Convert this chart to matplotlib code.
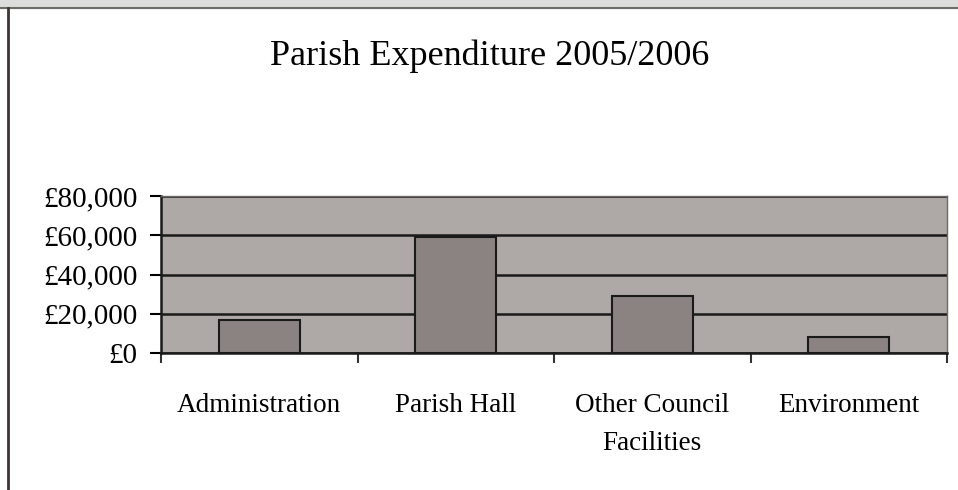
import numpy as np
import matplotlib.pyplot as plt
from matplotlib.ticker import FuncFormatter

# Parish expenditure 2005/2006 (GBP)
kategorije = ['Administration', 'Parish Hall', 'Other Council\nFacilities', 'Environment']
iznosi = [17000, 59000, 29000, 8000]
y_ticks = [0, 20000, 40000, 60000, 80000]

plt.rcParams['font.family'] = ['Liberation Serif', 'DejaVu Serif']

fig = plt.figure(figsize=(9.58, 4.9), dpi=100)
fig.patch.set_facecolor('white')

# rub skenirane stranice
fig.patches.append(plt.Rectangle((0, 1 - 8/490), 1, 8/490, transform=fig.transFigure,
                                 color='#dcdcdc', zorder=0))
fig.lines.append(plt.Line2D([0, 1], [1 - 8/490, 1 - 8/490], transform=fig.transFigure,
                            color='#6e6a68', lw=1.5))
fig.lines.append(plt.Line2D([8/958, 8/958], [0, 1 - 8/490], transform=fig.transFigure,
                            color='#3a3634', lw=2))

ax = fig.add_axes([161/958, 1 - 353/490, (947 - 161)/958, (353 - 196)/490])
ax.set_facecolor('#aea8a6')

x = np.arange(len(kategorije))
ax.bar(x, iznosi, width=0.41, color='#8a8381', edgecolor='#1a1a1a', linewidth=1.5, zorder=3)

ax.set_xlim(-0.5, 3.5)
ax.set_ylim(0, 80000)
ax.set_yticks(y_ticks)
ax.yaxis.set_major_formatter(FuncFormatter(lambda v, p: '£{:,.0f}'.format(v)))
ax.grid(axis='y', color='#1a1a1a', linewidth=1.8, zorder=1)

ax.set_xticks(x)
ax.set_xticklabels(kategorije, linespacing=1.65)
ax.set_xticks(np.arange(-0.5, 4, 1), minor=True)
ax.tick_params(axis='x', which='major', length=0, pad=29, labelsize=19.5)
ax.tick_params(axis='x', which='minor', length=7, width=1.5, color='#333333')
ax.tick_params(axis='y', length=8, width=1.5, labelsize=21, pad=9)

for s in ['left', 'bottom']:
    ax.spines[s].set_color('#1a1a1a')
    ax.spines[s].set_linewidth(1.8)
for s in ['top', 'right']:
    ax.spines[s].set_color('#6e6a68')
    ax.spines[s].set_linewidth(1.0)

fig.text(490/958, 1 - 56/490, 'Parish Expenditure 2005/2006', ha='center', va='center', fontsize=26)

plt.savefig('out.png', dpi=100)
